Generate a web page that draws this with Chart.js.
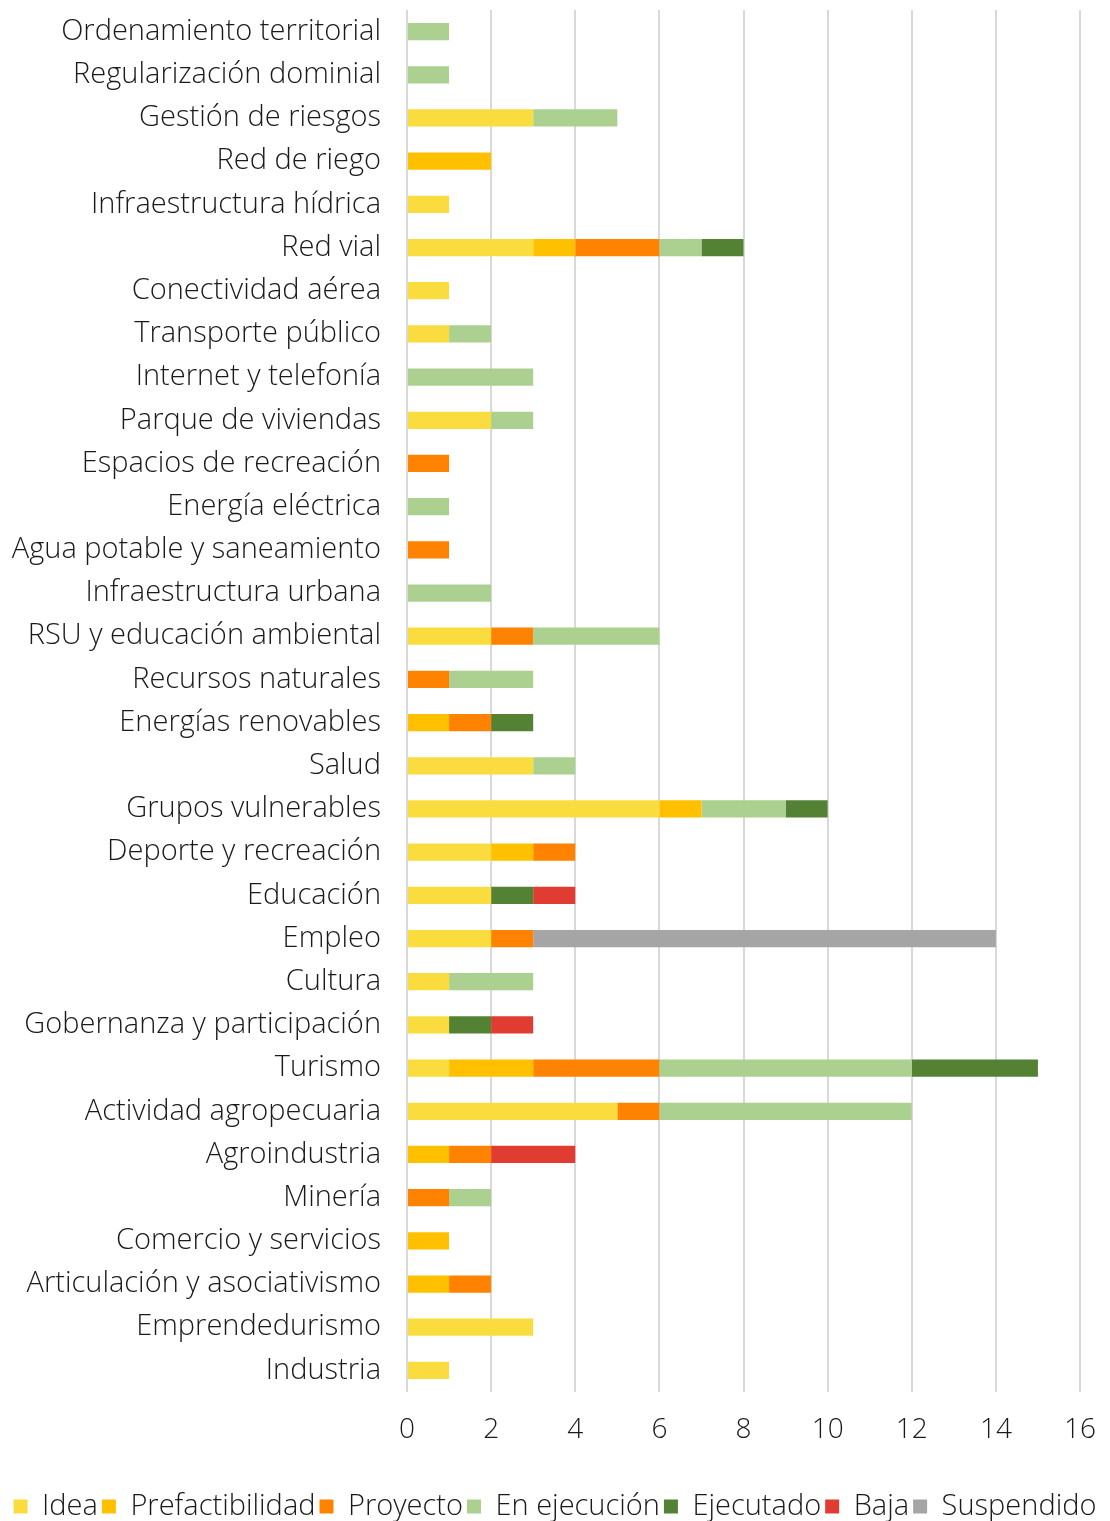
<!DOCTYPE html>
<html>
<head>
<meta charset="utf-8">
<script src="https://cdn.jsdelivr.net/npm/chart.js@4.4.1/dist/chart.umd.min.js"></script>
<style>
  html, body { margin: 0; padding: 0; background: #fff; }
  #wrap { width: 1110px; height: 1521px; }
</style>
</head>
<body>
<div id="wrap"><canvas id="chart" width="1110" height="1521"></canvas></div>
<script>
// Categorías (de arriba hacia abajo)
var categorias = [
    'Ordenamiento territorial', 'Regularización dominial', 'Gestión de riesgos', 'Red de riego',
    'Infraestructura hídrica', 'Red vial', 'Conectividad aérea', 'Transporte público',
    'Internet y telefonía', 'Parque de viviendas', 'Espacios de recreación', 'Energía eléctrica',
    'Agua potable y saneamiento', 'Infraestructura urbana', 'RSU y educación ambiental', 'Recursos naturales',
    'Energías renovables', 'Salud', 'Grupos vulnerables', 'Deporte y recreación',
    'Educación', 'Empleo', 'Cultura', 'Gobernanza y participación',
    'Turismo', 'Actividad agropecuaria', 'Agroindustria', 'Minería',
    'Comercio y servicios', 'Articulación y asociativismo', 'Emprendedurismo', 'Industria'
];

var idea =            [0,0,3,0, 1,3,1,1, 0,2,0,0, 0,0,2,0, 0,3,6,2, 2,2,1,1, 1,5,0,0, 0,0,3,1];
var prefactibilidad = [0,0,0,2, 0,1,0,0, 0,0,0,0, 0,0,0,0, 1,0,1,1, 0,0,0,0, 2,0,1,0, 1,1,0,0];
var proyecto =        [0,0,0,0, 0,2,0,0, 0,0,1,0, 1,0,1,1, 1,0,0,1, 0,1,0,0, 3,1,1,1, 0,1,0,0];
var enEjecucion =     [1,1,2,0, 0,1,0,1, 3,1,0,1, 0,2,3,2, 0,1,2,0, 0,0,2,0, 6,6,0,1, 0,0,0,0];
var ejecutado =       [0,0,0,0, 0,1,0,0, 0,0,0,0, 0,0,0,0, 1,0,1,0, 1,0,0,1, 3,0,0,0, 0,0,0,0];
var baja =            [0,0,0,0, 0,0,0,0, 0,0,0,0, 0,0,0,0, 0,0,0,0, 1,0,0,1, 0,0,2,0, 0,0,0,0];
var suspendido =      [0,0,0,0, 0,0,0,0, 0,0,0,0, 0,0,0,0, 0,0,0,0, 0,11,0,0, 0,0,0,0, 0,0,0,0];

var fuente = "'Open Sans', 'DejaVu Sans', sans-serif";

function serie(nombre, datos, color) {
    return {
        label: nombre,
        data: datos,
        backgroundColor: color,
        borderWidth: 0,
        barPercentage: 0.4,
        categoryPercentage: 1.0
    };
}

var ctx = document.getElementById('chart').getContext('2d');
var chart = new Chart(ctx, {
    type: 'bar',
    data: {
        labels: categorias,
        datasets: [
            serie('Idea', idea, '#FADC3E'),
            serie('Prefactibilidad', prefactibilidad, '#FFC000'),
            serie('Proyecto', proyecto, '#FF8300'),
            serie('En ejecución', enEjecucion, '#ABD090'),
            serie('Ejecutado', ejecutado, '#548235'),
            serie('Baja', baja, '#E03C31'),
            serie('Suspendido', suspendido, '#A5A5A5')
        ]
    },
    options: {
        indexAxis: 'y',
        responsive: false,
        animation: false,
        layout: {
            padding: { top: 10, right: 0, left: 0, bottom: -10 }
        },
        scales: {
            x: {
                stacked: true,
                min: 0,
                max: 16,
                ticks: {
                    stepSize: 2,
                    padding: 21,
                    color: '#1a1a1a',
                    font: { family: fuente, size: 28, weight: 300 }
                },
                grid: {
                    color: '#D9D9D9',
                    lineWidth: 2,
                    drawTicks: false
                },
                border: { display: false },
                afterFit: function(scale) {
                    scale.height = 96;
                    scale.paddingLeft = 0;
                    scale.paddingRight = 30;
                }
            },
            y: {
                stacked: true,
                ticks: {
                    padding: 26,
                    color: '#1a1a1a',
                    font: { family: fuente, size: 29, weight: 300 }
                },
                grid: { display: false, drawTicks: false },
                border: { display: false },
                afterFit: function(scale) {
                    scale.width = 407;
                    scale.paddingTop = 0;
                    scale.paddingBottom = 0;
                }
            }
        },
        plugins: {
            legend: {
                display: true,
                position: 'bottom',
                labels: {
                    boxWidth: 14,
                    boxHeight: 14,
                    padding: 4,
                    color: '#1a1a1a',
                    font: { family: fuente, size: 29, weight: 300 }
                }
            },
            tooltip: { enabled: false }
        }
    }
});
</script>
</body>
</html>
